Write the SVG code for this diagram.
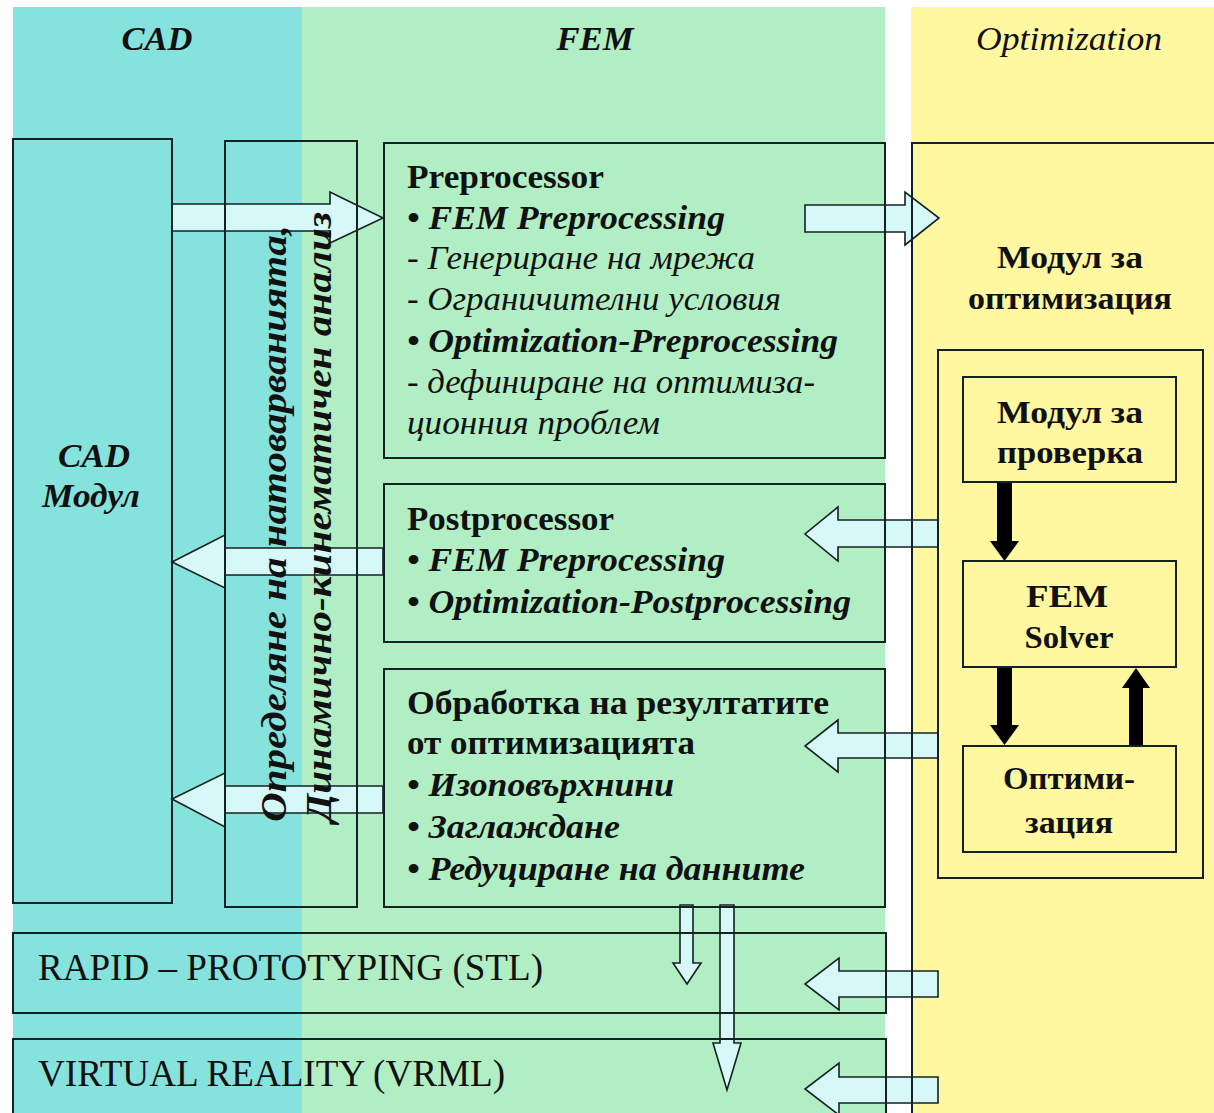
<svg xmlns="http://www.w3.org/2000/svg" width="1214" height="1113" viewBox="0 0 1214 1113">
<style>
.box{fill:none;stroke:#132222;stroke-width:2}
.ar{fill:#d6f8f8;stroke:#142020;stroke-width:1.6;stroke-linejoin:miter}
.blk{fill:#000}
text{font-family:"Liberation Serif","DejaVu Serif",serif;fill:#111}
.h{font-size:34px;font-weight:bold;font-style:italic}
.hi{font-size:34px;font-style:italic}
.b{font-size:34px;font-weight:bold}
.bi{font-size:34px;font-weight:bold;font-style:italic}
.i{font-size:34px;font-style:italic}
.v{font-size:36px;font-weight:bold;font-style:italic}
.o{font-size:32px;font-weight:bold}
.r{font-size:38px}
.m{text-anchor:middle}
</style>
<g id="lanes">
<rect x="0" y="0" width="1214" height="1113" fill="#ffffff"/>
<rect x="13" y="7" width="289" height="1106" fill="#86e2dc"/>
<rect x="302" y="7" width="583" height="1106" fill="#b1eec4"/>
<rect x="911" y="7" width="303" height="1106" fill="#fff8a0"/>
<text class="h m" x="157" y="50" textLength="71" lengthAdjust="spacingAndGlyphs">CAD</text>
<text class="h m" x="595" y="50" textLength="77" lengthAdjust="spacingAndGlyphs">FEM</text>
<text class="hi m" x="1069" y="50" textLength="186" lengthAdjust="spacingAndGlyphs">Optimization</text>
</g>
<g id="connectors">
<path class="ar" d="M172,204 H330 V192 L383,218 L330,243 V231 H172 Z"/>
<path class="ar" d="M805,205 H905 V192 L939,218 L905,245 V232 H805 Z"/>
<path class="ar" d="M938,520 H838 V507 L805,534 L838,561 V547 H938 Z"/>
<path class="ar" d="M938,733 H838 V720 L805,746 L838,772 V758 H938 Z"/>
<path class="ar" d="M383,548 H225 V535 L172,562 L225,588 V575 H383 Z"/>
<path class="ar" d="M383,786 H225 V773 L172,799 L225,827 V813 H383 Z"/>
<path class="ar" d="M680,905 V963 H673 L687,984 L701,963 H693 V905 Z"/>
<path class="ar" d="M720,905 V1043 H713 L727,1090 L741,1043 H734 V905 Z"/>
<path class="ar" d="M938,971 H839 V958 L805,984 L839,1010 V997 H938 Z"/>
<path class="ar" d="M938,1077 H839 V1063 L805,1089 L839,1115 V1103 H938 Z"/>
<path class="blk" d="M997,482 V541 H990 L1004.5,561 L1019,541 H1012 V482 Z"/>
<path class="blk" d="M997,667 V725 H990 L1004.5,745 L1019,725 H1012 V667 Z"/>
<path class="blk" d="M1129,746 V688 H1122 L1136,668 L1150,688 H1143 V746 Z"/>
</g>
<g id="cad-module">
<rect class="box" x="13" y="139" width="159" height="764"/>
<text class="h m" x="94" y="467" textLength="72" lengthAdjust="spacingAndGlyphs">CAD</text>
<text class="h m" x="91" y="507" textLength="98" lengthAdjust="spacingAndGlyphs">Модул</text>
</g>
<g id="load-analysis">
<rect class="box" x="225" y="141" width="132" height="766"/>
<text class="v" transform="translate(286,822) rotate(-90)" textLength="597" lengthAdjust="spacingAndGlyphs">Определяне на натоварванията,</text>
<text class="v" transform="translate(331,822) rotate(-90)" textLength="610" lengthAdjust="spacingAndGlyphs">Динамично-кинематичен анализ</text>
</g>
<g id="preprocessor">
<rect class="box" x="384" y="143" width="501" height="315"/>
<text class="b" x="407" y="188" textLength="197" lengthAdjust="spacingAndGlyphs">Preprocessor</text>
<text class="bi" x="407" y="229" textLength="318" lengthAdjust="spacingAndGlyphs">• FEM Preprocessing</text>
<text class="i" x="407" y="269" textLength="348" lengthAdjust="spacingAndGlyphs">- Генериране на мрежа</text>
<text class="i" x="407" y="310" textLength="374" lengthAdjust="spacingAndGlyphs">- Ограничителни условия</text>
<text class="bi" x="407" y="352" textLength="431" lengthAdjust="spacingAndGlyphs">• Optimization-Preprocessing</text>
<text class="i" x="407" y="393" textLength="408" lengthAdjust="spacingAndGlyphs">- дефиниране на оптимиза-</text>
<text class="i" x="407" y="434" textLength="253" lengthAdjust="spacingAndGlyphs">ционния проблем</text>
</g>
<g id="postprocessor">
<rect class="box" x="384" y="484" width="501" height="158"/>
<text class="b" x="407" y="530" textLength="207" lengthAdjust="spacingAndGlyphs">Postprocessor</text>
<text class="bi" x="407" y="571" textLength="318" lengthAdjust="spacingAndGlyphs">• FEM Preprocessing</text>
<text class="bi" x="407" y="613" textLength="444" lengthAdjust="spacingAndGlyphs">• Optimization-Postprocessing</text>
</g>
<g id="results">
<rect class="box" x="384" y="669" width="501" height="238"/>
<text class="b" x="407" y="714" textLength="422" lengthAdjust="spacingAndGlyphs">Обработка на резултатите</text>
<text class="b" x="407" y="754" textLength="288" lengthAdjust="spacingAndGlyphs">от оптимизацията</text>
<text class="bi" x="407" y="796" textLength="267" lengthAdjust="spacingAndGlyphs">• Изоповърхнини</text>
<text class="bi" x="407" y="838" textLength="213" lengthAdjust="spacingAndGlyphs">• Заглаждане</text>
<text class="bi" x="407" y="880" textLength="398" lengthAdjust="spacingAndGlyphs">• Редуциране на данните</text>
</g>
<g id="rapid-prototyping">
<rect class="box" x="13" y="933" width="873" height="80"/>
<text class="r" x="38" y="980" textLength="505" lengthAdjust="spacingAndGlyphs">RAPID – PROTOTYPING (STL)</text>
</g>
<g id="virtual-reality">
<rect class="box" x="13" y="1039" width="873" height="90"/>
<text class="r" x="38" y="1086" textLength="467" lengthAdjust="spacingAndGlyphs">VIRTUAL REALITY (VRML)</text>
</g>
<g id="optimization-module">
<path class="box" d="M912,1113 V143 H1214"/>
<text class="o m" x="1070" y="268" textLength="146" lengthAdjust="spacingAndGlyphs">Модул за</text>
<text class="o m" x="1070" y="309" textLength="204" lengthAdjust="spacingAndGlyphs">оптимизация</text>
<rect class="box" x="938" y="350" width="265" height="528"/>
</g>
<g id="check-module">
<rect class="box" x="963" y="377" width="213" height="105"/>
<text class="o m" x="1070" y="423" textLength="146" lengthAdjust="spacingAndGlyphs">Модул за</text>
<text class="o m" x="1070" y="463" textLength="146" lengthAdjust="spacingAndGlyphs">проверка</text>
</g>
<g id="fem-solver">
<rect class="box" x="963" y="561" width="213" height="106"/>
<text class="o m" x="1067" y="607" textLength="82" lengthAdjust="spacingAndGlyphs">FEM</text>
<text class="o m" x="1069" y="648" textLength="89" lengthAdjust="spacingAndGlyphs">Solver</text>
</g>
<g id="optimization">
<rect class="box" x="963" y="746" width="213" height="106"/>
<text class="o m" x="1069" y="789" textLength="132" lengthAdjust="spacingAndGlyphs">Оптими-</text>
<text class="o m" x="1069" y="833" textLength="88" lengthAdjust="spacingAndGlyphs">зация</text>
</g>
</svg>
